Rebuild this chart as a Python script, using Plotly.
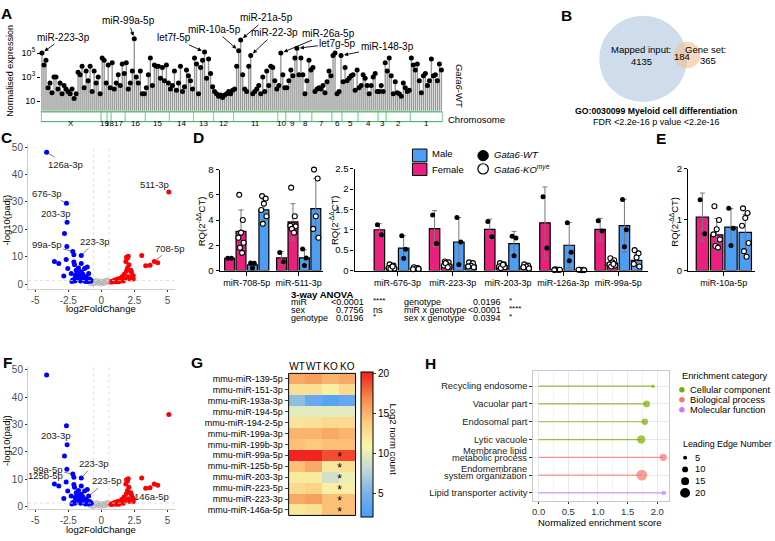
import plotly.graph_objects as go

W, H = 775, 541
FONT = "Liberation Sans, Arial, sans-serif"


def fx(p):
    return p / W


def fy(p):
    return 1 - p / H


def dom_x(a, b):
    return [a / W, b / W]


def dom_y(top, bottom):
    return [1 - bottom / H, 1 - top / H]


# ======================= DATA =======================
# ---- Panel A: normalised expression (log10) by chromosome ----
a_chrom_labels = ['X', '19', '18', '17', '16', '15', '14', '13', '12', '11',
                  '10', '9', '8', '7', '6', '5', '4', '3', '2', '1']
a_chrom_counts = [30, 3, 2, 7, 10, 12, 12, 10, 10, 22, 4, 7, 6, 10, 5, 8, 10, 4, 12, 16]
a_log10_expr = [
    5.0, 4.0, 4.4, 2.1, 2.5, 1.7, 3.0, 3.0, 2.0, 2.5, 1.6, 2.3, 2.0, 1.8, 1.6,
    2.0, 1.2, 1.6, 3.4, 3.2, 3.9, 2.1, 3.5, 2.7, 3.9, 1.8, 3.5, 2.5, 3.0, 1.6,
    4.6, 4.4, 2.5,
    4.0, 2.1,
    4.2, 2.0, 2.5, 3.2, 2.3, 4.1, 3.3,
    4.2, 2.0, 2.5, 3.5, 6.2, 3.0, 2.5, 3.5, 1.6, 1.6,
    2.1, 3.2, 4.6, 2.3, 4.0, 3.9, 3.9, 2.9, 3.8, 2.7, 4.0, 2.5,
    2.0, 2.3, 3.5, 1.9, 2.5, 3.9, 1.8, 2.2, 3.6, 3.1, 2.7, 2.0,
    4.6, 4.1, 1.6, 3.8, 4.4, 5.1, 2.9, 4.5, 3.3, 2.2,
    1.8, 1.6, 1.4, 1.5, 1.3, 1.5, 1.6, 1.8, 1.6, 1.9,
    2.0, 3.9, 5.2, 6.1, 3.2, 2.0, 1.8, 3.9, 4.8, 1.6, 1.8, 2.0, 2.3, 1.6, 3.0,
    1.8, 3.5, 2.3, 3.9, 3.8, 2.7, 2.0,
    2.3, 5.0, 3.2, 2.1,
    2.1, 2.7, 3.6, 3.1, 4.6, 5.4, 3.2,
    4.6, 3.2, 1.6, 2.7, 4.4, 3.6,
    3.8, 1.8, 2.0, 2.1, 2.0, 2.3, 1.7, 2.6, 3.5, 3.1,
    4.8, 5.0, 1.6, 1.8, 4.8,
    2.6, 3.8, 2.7, 2.9, 3.1, 3.2, 1.9, 3.6,
    2.1, 2.3, 3.2, 2.9, 2.3, 1.6, 2.3, 3.0, 3.3, 1.8,
    1.8, 2.3, 1.8, 4.2,
    3.5, 4.6, 3.1, 1.6, 2.6, 1.7, 1.6, 1.4, 2.5, 2.1, 1.8, 1.9,
    4.6, 4.0, 3.6, 4.1, 2.7, 1.7, 3.1, 3.3, 2.3, 2.7, 4.5, 3.1, 3.2, 2.7, 4.1, 3.6,
]
a_label_names = ['miR-223-3p', 'miR-99a-5p', 'let7f-5p', 'miR-10a-5p', 'miR-21a-5p',
                 'miR-22-3p', 'miR-26a-5p', 'let7g-5p', 'miR-148-3p']
a_label_index = [0, 46, 81, 98, 99, 104, 119, 127, 149]

# ---- Panel B: Venn ----
b_mapped_input = 4135
b_overlap = 184
b_gene_set = 365

# ---- Panels C / F: volcano ----
vol_down_x = [-4.14, -2.64, -2.59, -2.79, -2.61, -2.16, -2.08, -1.52, -3.55, -3.22,
              -2.66, -2.08, -2.03, -1.52, -2.54, -2.28, -2.84, -1.90, -1.73, -1.52,
              -1.27, -1.07, -0.96, -2.16, -1.98, -1.83, -1.65, -1.40, -1.27, -1.14,
              -1.07, -0.89, -0.76, -1.73, -1.40, -1.98, -1.57, -0.96, -1.83, -2.23,
              -1.20, -0.80, -1.60, -2.00, -1.35, -1.10]
vol_down_y = [48.1, 29.5, 22.6, 18.5, 13.7, 11.9, 10.7, 10.5, 8.3, 7.5,
              9.0, 8.1, 7.1, 7.5, 5.7, 3.9, 3.0, 5.1, 5.9, 4.5,
              5.7, 6.3, 3.9, 1.5, 2.1, 1.9, 2.7, 2.1, 1.5, 2.7,
              1.2, 1.9, 1.2, 3.9, 3.6, 3.3, 1.2, 1.0, 4.5, 1.0,
              1.0, 1.5, 1.7, 1.2, 3.0, 1.8]
vol_up_x = [5.10, 4.00, 4.26, 3.35, 3.68, 3.05, 2.03, 1.98, 1.85, 2.08,
            1.98, 2.23, 2.28, 1.90, 1.73, 1.57, 2.34, 2.41, 2.16, 1.40,
            1.22, 1.02, 0.89, 1.14, 1.47, 1.78, 2.03, 2.41, 0.71, 1.32,
            1.65, 1.90, 0.80, 1.10]
vol_up_y = [33.6, 8.3, 7.8, 6.7, 6.9, 10.5, 10.2, 9.5, 8.3, 7.1,
            5.9, 5.1, 4.3, 4.8, 3.6, 2.7, 2.7, 1.9, 1.9, 2.1,
            1.9, 1.5, 1.2, 1.2, 1.4, 1.9, 2.7, 3.1, 0.9, 0.9,
            1.2, 9.8, 0.8, 0.9]
vol_ns_x = [-0.71, -0.51, -0.38, -0.25, -0.13, 0.00, 0.13, 0.25, 0.38, 0.51,
            -0.56, -0.30, -0.05, 0.20, 0.46, -0.85, -0.65, 0.60]
vol_ns_y = [1.0, 0.7, 1.2, 0.4, 0.7, 1.0, 0.6, 1.0, 1.2, 1.4,
            0.4, 1.0, 0.2, 0.4, 0.7, 0.5, 0.2, 0.9]
c_label_text = ['126a-3p', '676-3p', '203-3p', '99a-5p', '223-3p', '511-3p', '708-5p']
c_label_x = [-4.14, -2.64, -2.59, -2.16, -1.52, 5.10, 4.00]
c_label_y = [48.1, 29.5, 22.6, 11.9, 10.5, 33.6, 8.3]
f_label_text = ['203-3p', '99a-5p', '125b-5p', '223-3p', '223-5p', '146a-5p']
f_label_x = [-2.59, -2.16, -2.66, -1.52, -0.96, 1.73]
f_label_y = [22.6, 11.9, 9.0, 10.5, 3.9, 3.6]

# ---- Panel D / E: RQ bars (conditions: Female WT, Female KO, Male WT, Male KO) ----
cond_names = ['Female WT', 'Female KO', 'Male WT', 'Male KO']
dl_groups = ['miR-708-5p', 'miR-511-3p']
dl_means = [[0.97, 3.1, 0.45, 4.8], [1.0, 3.85, 1.0, 4.9]]
dl_sds = [[0.05, 1.7, 0.2, 0.8], [0.5, 1.45, 0.65, 2.4]]
dl_dots = [
    [[0.98, 0.98], [6.0, 4.0, 3.0, 2.6, 2.2, 1.8, 1.4], [0.6, 0.57, 0.2], [5.9, 5.7, 5.3, 4.8, 4.3, 3.7]],
    [[1.43, 0.7], [6.57, 4.3, 3.6, 3.55, 3.5, 3.3, 3.0], [1.7, 1.0, 0.39], [8.0, 7.3, 4.3, 3.3, 2.6]],
]
dr_groups = ['miR-676-3p', 'miR-223-3p', 'miR-203-3p', 'miR-126a-3p', 'miR-99a-5p']
dr_means = [[1.0, 0.08, 0.55, 0.05], [1.03, 0.15, 0.7, 0.13], [1.01, 0.12, 0.66, 0.1],
            [1.17, 0.02, 0.62, 0.02], [1.01, 0.18, 1.1, 0.25]]
dr_sds = [[0.15, 0.04, 0.3, 0.03], [0.44, 0.05, 0.6, 0.05], [0.25, 0.05, 0.3, 0.05],
          [0.88, 0.01, 0.56, 0.01], [0.27, 0.07, 0.65, 0.15]]
dr_dots = [
    [[1.12, 0.88], [0.15, 0.12, 0.08, 0.06, 0.05, 0.04, 0.1], [0.85, 0.52, 0.3], [0.08, 0.06, 0.05, 0.03, 0.04]],
    [[1.36, 0.66], [0.22, 0.2, 0.15, 0.12, 0.1, 0.18, 0.08], [1.3, 0.7, 0.15], [0.2, 0.18, 0.12, 0.1, 0.08]],
    [[1.2, 0.83], [0.18, 0.15, 0.12, 0.1, 0.08, 0.06, 0.14], [0.84, 0.8, 0.36], [0.15, 0.12, 0.1, 0.08, 0.05]],
    [[1.81, 0.55], [0.03, 0.02, 0.02, 0.01, 0.02], [1.17, 0.45, 0.24], [0.02, 0.02, 0.01, 0.02, 0.01]],
    [[1.22, 0.97], [0.3, 0.25, 0.2, 0.15, 0.12, 0.1, 0.16], [1.74, 1.0, 0.58], [0.5, 0.42, 0.32, 0.16, 0.1]],
]
e_groups = ['miR-10a-5p']
e_means = [[1.05, 0.7, 0.85, 0.75]]
e_sds = [[0.47, 0.32, 0.37, 0.35]]
e_dots = [[[1.39, 0.72], [1.26, 0.99, 0.81, 0.71, 0.61, 0.48, 0.45], [1.22, 0.83, 0.49],
           [1.22, 1.13, 1.03, 0.88, 0.54, 0.38, 0.27]]]

anova_terms_left = ['miR', 'sex', 'genotype']
anova_p_left = ['<0.0001', '0.7756', '0.0196']
anova_sig_left = ['****', 'ns', '*']
anova_terms_right = ['genotype', 'miR x genotype', 'sex x genotype']
anova_p_right = ['0.0196', '<0.0001', '0.0394']
anova_sig_right = ['*', '****', '*']

# ---- Panel G: heatmap ----
g_rows = ['mmu-miR-139-5p', 'mmu-miR-151-3p', 'mmu-miR-193a-3p', 'mmu-miR-194-5p',
          'mmu-miR-194-2-5p', 'mmu-miR-199a-3p', 'mmu-miR-199b-3p', 'mmu-miR-99a-5p',
          'mmu-miR-125b-5p', 'mmu-miR-203-3p', 'mmu-miR-223-5p', 'mmu-miR-223-3p',
          'mmu-miR-146a-5p']
g_cols = ['WT', 'WT', 'KO', 'KO']
g_values = [
    [15.5, 16.0, 15.0, 15.5],
    [12.5, 12.5, 11.5, 13.0],
    [6.0, 4.0, 3.0, 3.8],
    [9.8, 9.8, 9.8, 9.8],
    [12.2, 12.5, 13.0, 13.0],
    [15.0, 15.0, 15.5, 15.0],
    [14.5, 14.0, 14.5, 14.5],
    [20.0, 20.0, 18.8, 19.0],
    [14.5, 15.5, 12.0, 12.5],
    [11.8, 11.8, 8.8, 10.3],
    [13.0, 13.5, 11.5, 11.5],
    [15.5, 16.0, 14.5, 14.5],
    [12.0, 12.5, 14.5, 14.5],
]
g_star_rows = ['mmu-miR-99a-5p', 'mmu-miR-125b-5p', 'mmu-miR-203-3p', 'mmu-miR-223-5p',
               'mmu-miR-223-3p', 'mmu-miR-146a-5p']

# ---- Panel H: enrichment ----
h_terms = ['Recycling endosome', 'Vacuolar part', 'Endosomal part', 'Lytic vacuole',
           'Membrane lipid metabolic process', 'Endomembrane system organization',
           'Lipid transporter activity']
h_nes = [1.93, 1.82, 1.79, 1.73, 2.10, 1.74, 2.11]
h_category = ['Cellular component', 'Cellular component', 'Cellular component',
              'Cellular component', 'Biological process', 'Biological process',
              'Molecular function']
h_leading_edge = [4, 12, 11, 16, 13, 22, 6]
h_cat_names = ['Cellular component', 'Biological process', 'Molecular function']
h_size_legend = [5, 10, 15, 20]

# ======================= STYLE =======================
PINK = '#ea1f7e'
BLUE = '#4c9ef2'
H_COLORS = {'Cellular component': '#7cae00', 'Biological process': '#f8766d',
            'Molecular function': '#c77cff'}

fig = go.Figure()
ann = []
shapes = []
layout = {}


def txt(x, y, s, size=9, xanchor='center', yanchor='middle', angle=0, color='black'):
    ann.append(dict(x=fx(x), y=fy(y), xref='paper', yref='paper', text=s, showarrow=False,
                    xanchor=xanchor, yanchor=yanchor, textangle=angle,
                    font=dict(size=size, color=color, family=FONT)))


# ---- Panel letters ----
for letter, (lx, ly) in zip('ABCDEFGH', [(6, 8), (566, 10), (6, 134), (198, 134), (661, 135),
                                          (7, 364), (196, 364), (430, 365)]):
    txt(lx, ly, '<b>%s</b>' % letter, size=15.5)

# ======================= PANEL A =======================
N = len(a_log10_expr)
a_x = list(range(N))
a_y = [10 ** v for v in a_log10_expr]
stem_x, stem_y = [], []
for xi, yi in zip(a_x, a_y):
    stem_x += [xi, xi, None]
    stem_y += [1, yi, None]
fig.add_trace(go.Scatter(x=stem_x, y=stem_y, mode='lines', line=dict(color='#999999', width=1.4),
                         xaxis='x', yaxis='y'))
fig.add_trace(go.Scatter(x=a_x, y=a_y, mode='markers', marker=dict(color='black', size=5),
                         xaxis='x', yaxis='y', cliponaxis=False))
layout['xaxis'] = dict(domain=dom_x(40, 442), range=[-0.5, N - 0.5], visible=False, anchor='y')
layout['yaxis'] = dict(domain=dom_y(20, 107), type='log', range=[0.18, 7.3], anchor='x',
                       tickvals=[10, 1e3, 1e5], ticktext=['10', '10<sup>3</sup>', '10<sup>5</sup>'],
                       ticks='outside', ticklen=3, tickcolor='black', showline=False, showgrid=False,
                       zeroline=False, tickfont=dict(size=9))
start = 0
for lab, cnt in zip(a_chrom_labels, a_chrom_counts):
    shapes.append(dict(type='rect', xref='x', yref='paper', x0=start - 0.5, x1=start + cnt - 0.5,
                       y0=fy(118), y1=fy(108), line=dict(color='#7dd59c', width=1), fillcolor='white'))
    ann.append(dict(x=start + (cnt - 1) / 2, y=fy(113.5), xref='x', yref='paper', text=lab,
                    showarrow=False, font=dict(size=8, family=FONT)))
    start += cnt
shapes.append(dict(type='rect', xref='x', yref='paper', x0=-0.5, x1=N - 0.5, y0=fy(118), y1=fy(108),
                   line=dict(color='#3fb96a', width=1)))
a_offsets = [(22, -16), (-6, -18), (-31, -14), (-24, -21), (26, -22), (24, -23), (48, -20), (41, -5), (46, -9)]
for name, idx, (ox, oy) in zip(a_label_names, a_label_index, a_offsets):
    ann.append(dict(x=idx, y=a_log10_expr[idx], xref='x', yref='y', text=name, showarrow=True,
                    arrowhead=2, arrowsize=0.9, arrowwidth=0.9, arrowcolor='black', ax=ox, ay=oy,
                    standoff=3, font=dict(size=10, family=FONT)))
txt(9, 66, 'Normalised expression', size=9, angle=-90)
txt(446, 116, 'Chromosome', size=9.5, xanchor='left')
txt(459, 82, '<i>Gata6</i>-WT', size=9.5, angle=90)

# ======================= PANEL B =======================
shapes.append(dict(type='circle', xref='paper', yref='paper', x0=fx(599), x1=fx(687), y0=fy(98), y1=fy(10),
                   fillcolor='#cfdcec', line=dict(width=0)))
shapes.append(dict(type='circle', xref='paper', yref='paper', x0=fx(673.5), x1=fx(700.5), y0=fy(63.5),
                   y1=fy(36.5), fillcolor='#f0c090', opacity=0.6, line=dict(width=0)))
txt(641, 44, 'Mapped input:', size=9.5)
txt(641, 57, str(b_mapped_input), size=9.5)
txt(682, 52, str(b_overlap), size=9.5)
txt(705, 44, 'Gene set:', size=9.5)
txt(708, 56, str(b_gene_set), size=9.5)
txt(656, 107, '<b>GO:0030099 Myeloid cell differentiation</b>', size=8.7)
txt(656, 118, 'FDR <2.2e-16 p value <2.2e-16', size=9)


# ======================= PANELS C & F =======================
def volcano(xa, ya, xdom, ydom, yrange, lab_text, lab_x, lab_y, offsets):
    for xs, ys, mk in [
        (vol_ns_x, vol_ns_y, dict(symbol='circle-open', color='#b0b0b0', size=5, line=dict(width=0.8))),
        (vol_down_x, vol_down_y, dict(color='#0000ff', size=5)),
        (vol_up_x, vol_up_y, dict(color='#ff0000', size=5)),
    ]:
        fig.add_trace(go.Scatter(x=xs, y=ys, mode='markers', marker=mk, xaxis=xa, yaxis=ya, cliponaxis=False))
    xn = 'xaxis' + xa[1:]
    yn = 'yaxis' + ya[1:]
    common = dict(showline=True, linecolor='#cfcfcf', linewidth=1, ticks='outside', ticklen=2,
                  tickcolor='#333333', showgrid=False, zeroline=False,
                  tickfont=dict(size=10, color='#4d4d4d'))
    layout[xn] = dict(domain=xdom, range=[-5.55, 5.55], anchor=ya, tickvals=[-5, -2.5, 0, 2.5, 5],
                      ticktext=['-5', '-2.5', '0', '2.5', '5'], **common)
    layout[yn] = dict(domain=ydom, range=yrange, anchor=xa, tickvals=[0, 10, 20, 30, 40, 50],
                      ticktext=['0', '10', '20', '30', '40', '50'], **common)
    for v in (-0.58, 0.58):
        shapes.append(dict(type='line', xref=xa, yref=ya + ' domain', x0=v, x1=v, y0=0, y1=1,
                           line=dict(color='#d5d5d5', width=0.8, dash='dot')))
    shapes.append(dict(type='line', xref=xa + ' domain', yref=ya, x0=0, x1=1, y0=1.3, y1=1.3,
                       line=dict(color='#d5d5d5', width=0.8, dash='dot')))
    for t, x, y, (ox, oy) in zip(lab_text, lab_x, lab_y, offsets):
        ann.append(dict(x=x, y=y, xref=xa, yref=ya, text=t, showarrow=True, arrowhead=0,
                        arrowwidth=0.7, arrowcolor='#444444', ax=ox, ay=oy, standoff=2,
                        font=dict(size=9.5, family=FONT, color='#1a1a1a')))


volcano('x2', 'y2', dom_x(27, 174), dom_y(142, 289), [-1.8, 50.7], c_label_text, c_label_x, c_label_y,
        [(19, 12), (-19, -10), (-11, -9), (-26, -7), (14, -14), (-14, -8), (16, -13)])
volcano('x3', 'y3', dom_x(27, 174), dom_y(369, 513), [-0.7, 50.8], f_label_text, f_label_x, f_label_y,
        [(-11, -9), (-25, -5), (-21, -6), (13, -14), (18, -15), (27, 0)])
txt(100, 309, 'log2FoldChange', size=9.5)
txt(6, 218, '-log10(padj)', size=9.5, angle=-90)
txt(100, 534, 'log2FoldChange', size=9.5)
txt(6, 443, '-log10(padj)', size=9.5, angle=-90)

# ======================= PANELS D & E =======================
cond_colors = [PINK, PINK, BLUE, BLUE]
cond_open = [False, True, False, True]
bar_off = [-0.33, -0.11, 0.11, 0.33]
jit = [-0.035, 0.035, 0.0, -0.05, 0.05, -0.02, 0.02]


def bar_panel(idx, groups, means, sds, dots, xdom, ydom, xrange, yrange, ytv, ytt):
    xa, ya = 'x%d' % idx, 'y%d' % idx
    n = len(groups)
    for c in range(4):
        fig.add_trace(go.Bar(x=[g + bar_off[c] for g in range(n)], y=[means[g][c] for g in range(n)],
                             width=0.19, name=cond_names[c],
                             marker=dict(color=cond_colors[c], line=dict(color='black', width=1.2)),
                             error_y=dict(type='data', array=[sds[g][c] for g in range(n)],
                                          color='#777777', thickness=1, width=2.5),
                             xaxis=xa, yaxis=ya))
    for c in range(4):
        xs, ys = [], []
        for g in range(n):
            for k, v in enumerate(dots[g][c]):
                xs.append(g + bar_off[c] + jit[k % len(jit)])
                ys.append(v)
        if cond_open[c]:
            mk = dict(size=5, color='white', line=dict(color='black', width=1.1))
        else:
            mk = dict(size=5, color='black')
        fig.add_trace(go.Scatter(x=xs, y=ys, mode='markers', marker=mk, xaxis=xa, yaxis=ya, cliponaxis=False))
    layout['xaxis%d' % idx] = dict(domain=xdom, range=xrange, anchor=ya, tickvals=list(range(n)),
                                   ticktext=groups, ticks='outside', ticklen=4, tickwidth=1.3,
                                   tickcolor='black', showline=True, linewidth=1.3, linecolor='black',
                                   showgrid=False, zeroline=False, tickfont=dict(size=9))
    layout['yaxis%d' % idx] = dict(domain=ydom, range=yrange, anchor=xa, tickvals=ytv, ticktext=ytt,
                                   ticks='outside', ticklen=3, tickwidth=1.3, tickcolor='black',
                                   showline=True, linewidth=1.3, linecolor='black', showgrid=False,
                                   zeroline=False, tickfont=dict(size=9.5))


bar_panel(4, dl_groups, dl_means, dl_sds, dl_dots, dom_x(219, 322), dom_y(167, 270), [-0.52, 1.46], [0, 8],
          [0, 2, 4, 6, 8], ['0', '2', '4', '6', '8'])
bar_panel(5, dr_groups, dr_means, dr_sds, dr_dots, dom_x(354, 648), dom_y(166, 270), [-0.78, 4.54], [0, 2.5],
          [0, 0.5, 1, 1.5, 2, 2.5], ['0', '0.5', '1', '1.5', '2', '2.5'])
bar_panel(6, e_groups, e_means, e_sds, e_dots, dom_x(688, 755), dom_y(166, 270), [-0.55, 0.48], [0, 2],
          [0, 1, 2], ['0', '1', '2'])
rq = 'RQ(2<sup>-ΔΔ</sup>CT)'
txt(200, 220, rq, size=9.5, angle=-90)
txt(333, 219, rq, size=9.5, angle=-90)
txt(673, 220, rq, size=9.5, angle=-90)

# legend D
shapes.append(dict(type='rect', xref='paper', yref='paper', x0=fx(412), x1=fx(426.5), y0=fy(159), y1=fy(146),
                   fillcolor=BLUE, line=dict(color='black', width=1)))
shapes.append(dict(type='rect', xref='paper', yref='paper', x0=fx(412), x1=fx(426.5), y0=fy(173), y1=fy(160.5),
                   fillcolor=PINK, line=dict(color='black', width=1)))
txt(430, 151, 'Male', size=9.5, xanchor='left')
txt(430, 167, 'Female', size=9.5, xanchor='left')
shapes.append(dict(type='circle', xref='paper', yref='paper', x0=fx(477.5), x1=fx(488), y0=fy(158), y1=fy(147.5),
                   fillcolor='black', line=dict(color='black', width=1)))
shapes.append(dict(type='circle', xref='paper', yref='paper', x0=fx(477.5), x1=fx(488), y0=fy(171.5), y1=fy(161),
                   fillcolor='white', line=dict(color='black', width=1.2)))
txt(492, 152, '<i>Gata6-WT</i>', size=9.5, xanchor='left')
txt(492, 166.5, '<i>Gata6-KO<sup>mye</sup></i>', size=9.5, xanchor='left')

# ANOVA
txt(288, 294, '<b>3-way ANOVA</b>', size=9.5, xanchor='left')
for r in range(3):
    yy = 302.5 + 7.8 * r
    txt(288, yy, anova_terms_left[r], size=9, xanchor='left')
    txt(365, yy, anova_p_left[r], size=9, xanchor='right')
    is_ns = anova_sig_left[r] == 'ns'
    txt(370, yy - (0 if is_ns else 1.5), anova_sig_left[r], size=9 if is_ns else 8, xanchor='left')
    txt(402, yy, anova_terms_right[r], size=9, xanchor='left')
    txt(503, yy, anova_p_right[r], size=9, xanchor='right')
    txt(507, yy - 1.5, anova_sig_right[r], size=8, xanchor='left')

# ======================= PANEL G =======================
g_scale = [[0.0, '#4a9cfb'], [0.16, '#76b2e6'], [0.33, '#c3d8d8'], [0.49, '#f8f6aa'],
           [0.655, '#fccb80'], [0.82, '#f58a4b'], [1.0, '#f01e1e']]
fig.add_trace(go.Heatmap(z=g_values, x=list(range(len(g_cols))), y=list(range(len(g_rows))),
                         colorscale=g_scale, zmin=2.1, zmax=20.2, xaxis='x7', yaxis='y7',
                         colorbar=dict(x=fx(360), xanchor='left', xpad=0, ypad=0, y=fy(447.5), yanchor='middle',
                                       len=145, lenmode='pixels', thickness=12, thicknessmode='pixels',
                                       outlinewidth=1, outlinecolor='black', tickvals=[5, 10, 15, 20],
                                       ticks='outside', ticklen=3, tickfont=dict(size=10, family=FONT))))
star_y = [g_rows.index(r) + 0.27 for r in g_star_rows]
fig.add_trace(go.Scatter(x=[2.55] * len(star_y), y=star_y, mode='text', text=['*'] * len(star_y),
                         textfont=dict(size=12, color='black', family=FONT), xaxis='x7', yaxis='y7'))
layout['xaxis7'] = dict(domain=dom_x(288, 355), range=[-0.5, 3.5], anchor='y7', side='top',
                        tickvals=list(range(4)), ticktext=g_cols, ticks='', showgrid=False, zeroline=False,
                        tickangle=0, tickfont=dict(size=10))
layout['yaxis7'] = dict(domain=dom_y(375, 520), range=[12.5, -0.5], anchor='x7',
                        tickvals=list(range(len(g_rows))), ticktext=g_rows, ticks='outside', ticklen=3,
                        showgrid=False, zeroline=False, tickfont=dict(size=9))
shapes.append(dict(type='rect', xref='x7 domain', yref='y7 domain', x0=0, x1=1, y0=0, y1=1,
                   line=dict(color='black', width=1)))
txt(393, 443, 'Log2 norm count', size=9.5, angle=90)

# ======================= PANEL H =======================
h_y = list(range(len(h_terms)))
for i in h_y:
    fig.add_trace(go.Scatter(x=[0, h_nes[i]], y=[i, i], mode='lines',
                             line=dict(color=H_COLORS[h_category[i]], width=1.2), opacity=0.75,
                             xaxis='x8', yaxis='y8'))
fig.add_trace(go.Scatter(x=h_nes, y=h_y, mode='markers',
                         marker=dict(color=[H_COLORS[c] for c in h_category],
                                     size=[2 + 0.4 * n for n in h_leading_edge], line=dict(width=0)),
                         xaxis='x8', yaxis='y8', cliponaxis=False))
h_ticktext = [t if i not in (4, 5) else ' ' for i, t in enumerate(h_terms)]
layout['xaxis8'] = dict(domain=dom_x(533, 669), range=[-0.09, 2.2], anchor='y8',
                        tickvals=[0, 0.5, 1, 1.5, 2], ticktext=['0.0', '0.5', '1.0', '1.5', '2.0'],
                        ticks='outside', ticklen=2, tickcolor='#333333', showgrid=True, gridcolor='#e8e8e8',
                        gridwidth=0.8, minor=dict(dtick=0.25, tick0=0, showgrid=True, gridcolor='#f3f3f3',
                                                  gridwidth=0.5),
                        showline=True, mirror=True, linecolor='#c8c8c8', linewidth=1, zeroline=False,
                        tickfont=dict(size=9.5, color='#333333'))
layout['yaxis8'] = dict(domain=dom_y(373, 505), range=[6.44, -0.83], anchor='x8', tickvals=h_y,
                        ticktext=h_ticktext, ticks='outside', ticklen=3, tickcolor='#333333', showgrid=True,
                        gridcolor='#e8e8e8', gridwidth=0.8, showline=True, mirror=True, linecolor='#c8c8c8',
                        linewidth=1, zeroline=False, tickfont=dict(size=9.3, color='#1a1a1a'))
for i, (l1, l2) in [(4, ('Membrane lipid', 'metabolic process')), (5, ('Endomembrane', 'system organization'))]:
    ry = 388 + 18.17 * i
    txt(529, ry - 6, l1, size=9.3, xanchor='right', color='#1a1a1a')
    txt(529, ry + 1, l2, size=9.3, xanchor='right', color='#1a1a1a')
txt(600, 527, 'Normalized enrichment score', size=9.5)
# legend H
txt(680, 378, 'Enrichment category', size=9.3, xanchor='left')
for k, cname in enumerate(h_cat_names):
    cy = 391.7 + 10.2 * k
    shapes.append(dict(type='circle', xref='paper', yref='paper', x0=fx(679), x1=fx(684.5), y0=fy(cy + 2.75),
                       y1=fy(cy - 2.75), fillcolor=H_COLORS[cname], line=dict(width=0)))
    txt(688, cy, cname, size=9.3, xanchor='left')
txt(681, 447, 'Leading Edge Number', size=8.9, xanchor='left')
for k, n in enumerate(h_size_legend):
    cy = 461 + 12 * k
    d = 2 + 0.4 * n
    shapes.append(dict(type='circle', xref='paper', yref='paper', x0=fx(685 - d / 2), x1=fx(685 + d / 2),
                       y0=fy(cy + d / 2), y1=fy(cy - d / 2), fillcolor='black', line=dict(width=0)))
    txt(693, cy, str(n), size=9.3, xanchor='left')

fig.update_layout(width=W, height=H, margin=dict(l=0, r=0, t=0, b=0), paper_bgcolor='white',
                  plot_bgcolor='white', showlegend=False, barmode='overlay',
                  font=dict(family=FONT, size=9, color='black'), annotations=ann, shapes=shapes, **layout)
fig.write_html("out.html")
